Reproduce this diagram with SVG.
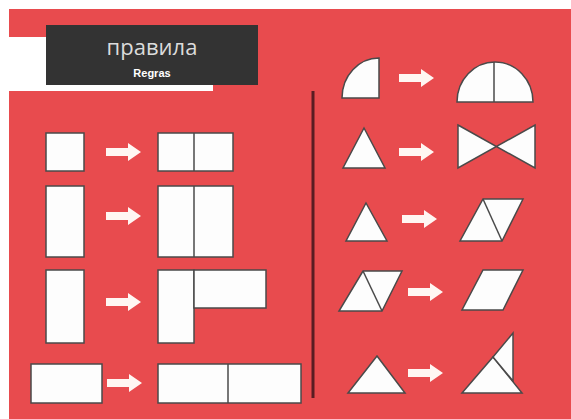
<svg xmlns="http://www.w3.org/2000/svg" xmlns:xlink="http://www.w3.org/1999/xlink" width="571" height="419" viewBox="0 0 571 419">
<style>
.s{fill:#fdfdfd;stroke:#4a4a4a;stroke-width:1.5;stroke-linejoin:miter}
.d{fill:none;stroke:#4a4a4a;stroke-width:1.5}
.a{fill:#fff6f2}
</style>
<defs>
<path id="arr" d="M0,-4 H22 V-9 L35,0 L22,9 V4 H0 Z"/>
</defs>
<rect width="571" height="419" fill="#ffffff"/>
<rect x="9" y="9" width="562" height="410" fill="#E84B4E"/>
<g id="header">
<rect x="0" y="37" width="213" height="54" fill="#ffffff"/>
<rect x="46" y="25" width="212" height="60" fill="#333333"/>
<text x="152" y="55" text-anchor="middle" font-family="'Open Sans', sans-serif" font-size="22" fill="#dcdcdc">правила</text>
<text x="152" y="77" text-anchor="middle" font-family="'Liberation Sans', sans-serif" font-size="11" font-weight="bold" fill="#ffffff">Regras</text>
</g>
<g id="divider">
<line x1="313" y1="91" x2="313" y2="398" stroke="#5a1c22" stroke-width="3"/>
</g>
<g id="connectors" class="a">
<use xlink:href="#arr" transform="translate(106,152)"/>
<use xlink:href="#arr" transform="translate(106,216)"/>
<use xlink:href="#arr" transform="translate(106,302)"/>
<use xlink:href="#arr" transform="translate(107,383)"/>
<use xlink:href="#arr" transform="translate(399,78)"/>
<use xlink:href="#arr" transform="translate(399,152)"/>
<use xlink:href="#arr" transform="translate(402,219)"/>
<use xlink:href="#arr" transform="translate(408,292)"/>
<use xlink:href="#arr" transform="translate(408,373)"/>
</g>
<g id="l1a"><rect class="s" x="46" y="133" width="38" height="38"/></g>
<g id="l1b"><rect class="s" x="158" y="133" width="75" height="38"/><line class="d" x1="194" y1="133" x2="194" y2="171"/></g>
<g id="l2a"><rect class="s" x="46" y="186" width="38" height="71"/></g>
<g id="l2b"><rect class="s" x="158" y="186" width="75" height="71"/><line class="d" x1="194" y1="186" x2="194" y2="257"/></g>
<g id="l3a"><rect class="s" x="46" y="270" width="38" height="73"/></g>
<g id="l3b"><rect class="s" x="158" y="270" width="36" height="73"/><rect class="s" x="194" y="270" width="72" height="38"/></g>
<g id="l4a"><rect class="s" x="31" y="364" width="71" height="39"/></g>
<g id="l4b"><rect class="s" x="158" y="364" width="143" height="39"/><line class="d" x1="228" y1="364" x2="228" y2="403"/></g>
<g id="r1a"><path class="s" d="M379,98 H342 A37,40 0 0 1 379,58 Z"/></g>
<g id="r1b"><path class="s" d="M457,102 A38,40 0 0 1 533,102 Z"/><line class="d" x1="494" y1="62" x2="494" y2="102"/></g>
<g id="r2a"><polygon class="s" points="364,128 385,168 343,168"/></g>
<g id="r2b"><polygon class="s" points="458,125 535,168 535,125 458,168"/></g>
<g id="r3a"><polygon class="s" points="366,203 387,241 346,241"/></g>
<g id="r3b"><polygon class="s" points="483,199 523,199 502,241 460,241"/><line class="d" x1="483" y1="199" x2="502" y2="241"/></g>
<g id="r4a"><polygon class="s" points="363,271 402,271 382,311 339,311"/><line class="d" x1="363" y1="271" x2="382" y2="311"/></g>
<g id="r4b"><polygon class="s" points="483,270 523,270 503,310 462,310"/></g>
<g id="r5a"><polygon class="s" points="377,356 405,393 348,393"/></g>
<g id="r5b"><polygon class="s" points="493,357 522,393 462,393"/><polygon class="s" points="513,333 513,381 493,357"/></g>
</svg>
